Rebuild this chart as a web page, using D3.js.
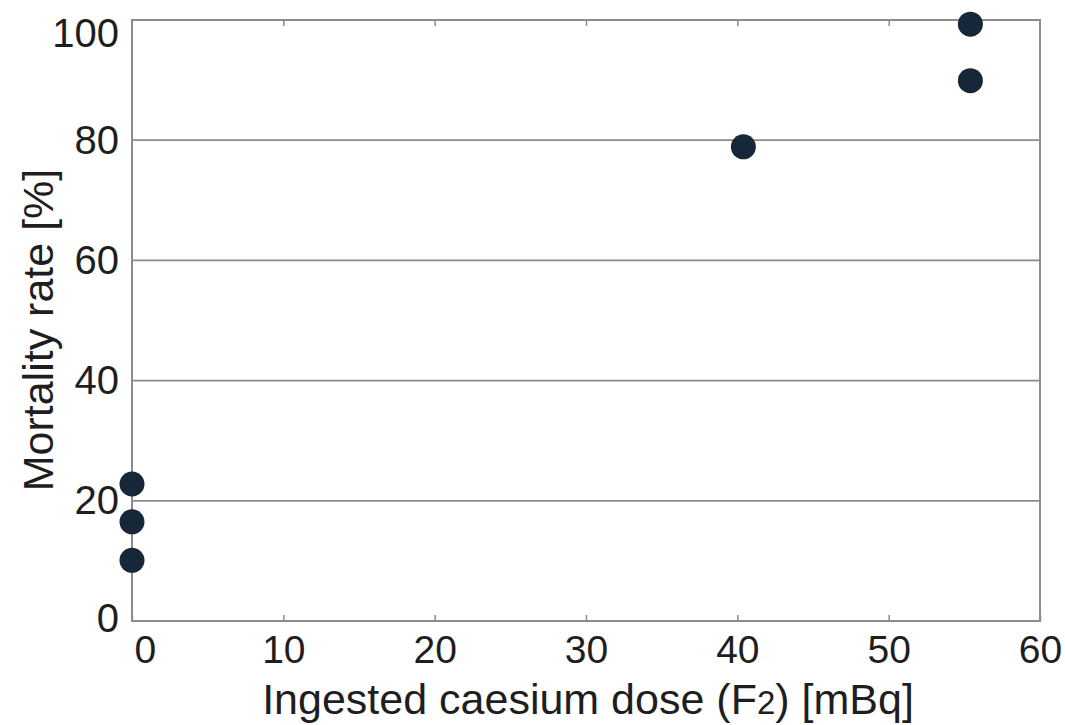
<!DOCTYPE html>
<html>
<head>
<meta charset="utf-8">
<script src="https://cdn.jsdelivr.net/npm/d3@7"></script>
<style>
  body { margin: 0; background: #fff; }
  svg text { font-family: "Liberation Sans", Arial, sans-serif; fill: #1e1e1e; }
</style>
</head>
<body>
<div id="chart"></div>
<script>
const doseValues = [0, 0, 0, 40.4, 55.4, 55.4];
const mortalityValues = [22.8, 16.5, 10.1, 78.9, 99.3, 89.9];
const xTicks = [0, 10, 20, 30, 40, 50, 60];
const yTicks = [0, 20, 40, 60, 80, 100];
const gridValues = [20, 40, 60, 80];

function draw() {
  const dataSet = doseValues.map((d, i) => ({ dose: d, rate: mortalityValues[i] }));
  const xAccessor = (d) => d.dose;
  const yAccessor = (d) => d.rate;

  const dimensions = {
    width: 1065,
    height: 725,
    margin: { top: 20, bottom: 104, left: 132, right: 25 },
  };
  dimensions.containerWidth = dimensions.width - dimensions.margin.left - dimensions.margin.right;
  dimensions.containerHeight = dimensions.height - dimensions.margin.top - dimensions.margin.bottom;

  const svg = d3.select('#chart').append('svg')
    .attr('width', dimensions.width)
    .attr('height', dimensions.height);
  const container = svg.append('g')
    .attr('transform', `translate(${dimensions.margin.left}, ${dimensions.margin.top})`);

  const xScale = d3.scaleLinear().domain([0, 60]).range([0, dimensions.containerWidth]);
  const yScale = d3.scaleLinear().domain([0, 100]).range([dimensions.containerHeight, 0]);

  const gridColor = '#8c8c8c';

  // horizontal grid
  container.append('g')
    .selectAll('line')
    .data(gridValues)
    .join('line')
    .attr('x1', 0)
    .attr('x2', dimensions.containerWidth)
    .attr('y1', yScale)
    .attr('y2', yScale)
    .attr('stroke', gridColor)
    .attr('stroke-width', 1.8);

  // frame
  container.append('rect')
    .attr('width', dimensions.containerWidth)
    .attr('height', dimensions.containerHeight)
    .attr('fill', 'none')
    .attr('stroke', gridColor)
    .attr('stroke-width', 2);

  // x axis (inward ticks, bottom and top)
  const xAxis = d3.axisBottom(xScale).tickValues(xTicks).tickSize(-6).tickPadding(14);
  const xAxisGroup = container.append('g')
    .attr('transform', `translate(0, ${dimensions.containerHeight})`)
    .call(xAxis);
  xAxisGroup.select('.domain').remove();
  xAxisGroup.selectAll('line').attr('stroke', gridColor).attr('stroke-width', 1.5);
  xAxisGroup.selectAll('text')
    .style('font-size', '39px')
    .attr('fill', '#1e1e1e')
    .attr('text-anchor', (d) => (d === 0 ? 'start' : 'middle'))
    .attr('dx', (d) => (d === 0 ? 2 : 0));

  const xTopGroup = container.append('g')
    .call(d3.axisTop(xScale).tickValues(xTicks.slice(1, -1)).tickSize(-6).tickFormat(''));
  xTopGroup.select('.domain').remove();
  xTopGroup.selectAll('line').attr('stroke', gridColor).attr('stroke-width', 1.5);

  // y axis labels
  const yAxis = d3.axisLeft(yScale).tickValues(yTicks).tickSize(0).tickPadding(13);
  const yAxisGroup = container.append('g').call(yAxis);
  yAxisGroup.select('.domain').remove();
  yAxisGroup.selectAll('text')
    .style('font-size', '40px')
    .attr('fill', '#1e1e1e')
    .attr('dy', (d) => (d === 100 ? '0.65em' : d === 0 ? '0.25em' : '0.32em'));

  // points
  container.append('g')
    .selectAll('circle')
    .data(dataSet)
    .join('circle')
    .attr('cx', (d) => xScale(xAccessor(d)))
    .attr('cy', (d) => yScale(yAccessor(d)))
    .attr('r', 12.5)
    .attr('fill', '#16273a');

  // axis titles
  const xLabel = svg.append('text')
    .attr('x', 588)
    .attr('y', 714)
    .attr('text-anchor', 'middle')
    .style('font-size', '43px');
  xLabel.append('tspan').text('Ingested caesium dose (F');
  xLabel.append('tspan').style('font-size', '33px').text('2');
  xLabel.append('tspan').text(') [mBq]');

  svg.append('text')
    .attr('transform', 'translate(53, 330) rotate(-90)')
    .attr('text-anchor', 'middle')
    .style('font-size', '43px')
    .text('Mortality rate [%]');
}

draw();
</script>
</body>
</html>
